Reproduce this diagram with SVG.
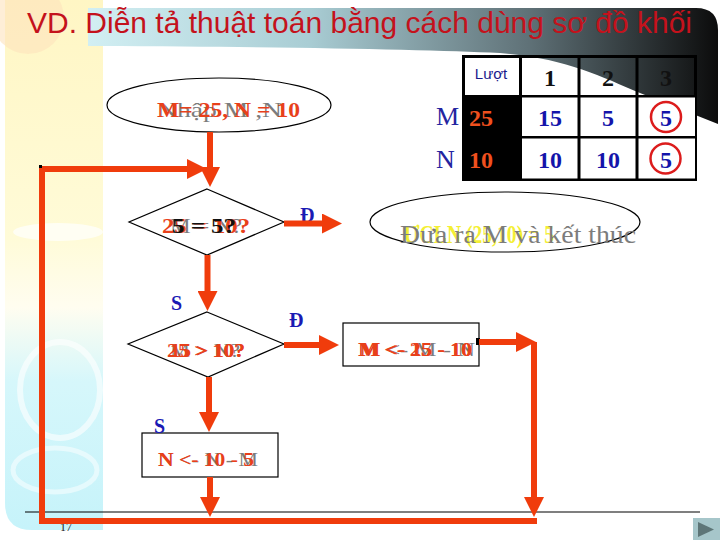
<svg xmlns="http://www.w3.org/2000/svg" width="720" height="540" viewBox="0 0 720 540">
<defs>
  <linearGradient id="band" x1="0" y1="0" x2="1" y2="0">
    <stop offset="0" stop-color="#d2eff3"/>
    <stop offset="0.35" stop-color="#a9cdd4"/>
    <stop offset="0.7" stop-color="#5f7177"/>
    <stop offset="1" stop-color="#0c0c0c"/>
  </linearGradient>
  <linearGradient id="side" x1="0" y1="0" x2="0" y2="1">
    <stop offset="0" stop-color="#fff6c4"/>
    <stop offset="0.45" stop-color="#fffbd8"/>
    <stop offset="0.58" stop-color="#fffdf0"/>
    <stop offset="0.72" stop-color="#d6f7fb"/>
    <stop offset="1" stop-color="#c6f3fa"/>
  </linearGradient>
  <marker id="ah" viewBox="0 0 20 20" refX="1" refY="10" markerWidth="20" markerHeight="20" markerUnits="userSpaceOnUse" orient="auto">
    <path d="M0,0 L20,10 L0,20 Z" fill="#f03c0c"/>
  </marker>
  <style>
    .title{font-family:"Liberation Sans",Arial,sans-serif;font-size:29px;fill:#c4121c}
    .shape{fill:none;stroke:#000;stroke-width:1.2}
    .box{fill:#fff;stroke:#000;stroke-width:1.2}
    .g{font-family:"Liberation Serif","Times New Roman",serif;fill:#7c7c7c}
    .r{font-family:"Liberation Serif","Times New Roman",serif;font-weight:bold;fill:#e8401a}
    .k{font-family:"Liberation Serif","Times New Roman",serif;font-weight:bold;fill:#111}
    .y{font-family:"Liberation Serif","Times New Roman",serif;font-weight:bold;fill:#f4ef34}
    .lab{font-family:"Liberation Serif","Times New Roman",serif;font-weight:bold;font-size:20px;fill:#1a1ab4}
    .hd{font-family:"Liberation Serif","Times New Roman",serif;font-weight:bold;font-size:24px;fill:#111;text-anchor:middle}
    .bv{font-family:"Liberation Serif","Times New Roman",serif;font-weight:bold;font-size:24px;fill:#1414aa;text-anchor:middle}
    .ov{font-family:"Liberation Serif","Times New Roman",serif;font-weight:bold;font-size:24px;fill:#f0501e}
    .mn{font-family:"Liberation Serif","Times New Roman",serif;font-size:26px;fill:#2424a0}
    .conn{fill:none;stroke:#f03c0c;stroke-width:6;stroke-linejoin:miter}
  </style>
</defs>

<!-- background -->
<rect x="0" y="0" width="720" height="540" fill="#fff"/>
<g id="decor">
  <path d="M5,0 H103 V530 H32 Q5,530 5,503 Z" fill="url(#side)"/>
  <circle cx="28" cy="18" r="36" fill="#fde2bc" opacity="0.6"/>
  <ellipse cx="58" cy="232" rx="45" ry="9" fill="#ffffff" opacity="0.7"/>
  <ellipse cx="60" cy="390" rx="40" ry="48" fill="none" stroke="#ffffff" stroke-width="6" opacity="0.6"/>
  <ellipse cx="55" cy="470" rx="42" ry="22" fill="none" stroke="#ffffff" stroke-width="5" opacity="0.5"/>
  <path d="M88,8 H696 Q718,8 718,30 V124 L640,93 C600,76 565,58 500,53 C430,50 300,47 100,46 L88,46 Z" fill="url(#band)"/>
  <line x1="25" y1="512" x2="700" y2="512" stroke="#000" stroke-width="1.2"/>
  <text x="60" y="531" font-family="Liberation Serif, serif" font-size="12" fill="#222">17</text>
  <rect x="693" y="518" width="27" height="22" fill="#a6c6ca"/>
  <path d="M698,522 L698,537 L714,529.5 Z" fill="#5e7678"/>
</g>

<text class="title" x="27" y="33" textLength="665" lengthAdjust="spacingAndGlyphs">VD. Diễn tả thuật toán bằng cách dùng sơ đồ khối</text>

<!-- table -->
<g id="table">
  <rect x="463.5" y="56.5" width="56" height="39" fill="#fff"/>
  <rect x="463.5" y="56.5" width="232" height="40" fill="none" stroke="#000" stroke-width="3"/>
  <line x1="520.5" y1="56" x2="520.5" y2="96" stroke="#000" stroke-width="3"/>
  <line x1="579" y1="56" x2="579" y2="96" stroke="#000" stroke-width="3"/>
  <line x1="637" y1="56" x2="637" y2="96" stroke="#000" stroke-width="3"/>
  <rect x="462" y="95" width="235" height="86" fill="#000"/>
  <rect x="522" y="97.5" width="55.5" height="38.5" fill="#fff"/>
  <rect x="580.5" y="97.5" width="55" height="38.5" fill="#fff"/>
  <rect x="638.5" y="97.5" width="56.5" height="38.5" fill="#fff"/>
  <rect x="522" y="138.5" width="55.5" height="40" fill="#fff"/>
  <rect x="580.5" y="138.5" width="55" height="40" fill="#fff"/>
  <rect x="638.5" y="138.5" width="56.5" height="40" fill="#fff"/>
  <text x="491" y="79" text-anchor="middle" font-family="Liberation Sans, Arial, sans-serif" font-size="15" fill="#1a1a8c">Lượt</text>
  <text class="hd" x="550" y="86">1</text>
  <text class="hd" x="608" y="86">2</text>
  <text class="hd" x="666" y="86">3</text>
  <text class="ov" x="469" y="126">25</text>
  <text class="ov" x="469" y="168">10</text>
  <text class="bv" x="550" y="126">15</text>
  <text class="bv" x="608" y="126">5</text>
  <text class="bv" x="666" y="126">5</text>
  <text class="bv" x="550" y="168">10</text>
  <text class="bv" x="608" y="168">10</text>
  <text class="bv" x="666" y="168">5</text>
  <circle cx="666" cy="117" r="15" fill="none" stroke="#dc1c1c" stroke-width="2.5"/>
  <circle cx="665.5" cy="158.5" r="15" fill="none" stroke="#dc1c1c" stroke-width="2.5"/>
  <text class="mn" x="436" y="125">M</text>
  <text class="mn" x="436" y="168">N</text>
</g>

<!-- nodes -->
<g id="start">
  <ellipse class="shape" cx="219" cy="105" rx="112" ry="27"/>
  <text class="g" x="157" y="117" font-size="22" textLength="125" lengthAdjust="spacingAndGlyphs">Nhập M ,N</text>
  <text class="r" x="157" y="117" font-size="22" textLength="143" lengthAdjust="spacingAndGlyphs">M= 25, N = 10</text>
</g>

<g id="cond1">
  <polygon class="shape" points="207,189 284,222 207,255 129,222"/>
  <text class="g" x="170" y="233" font-size="21" textLength="72" lengthAdjust="spacingAndGlyphs">M = N?</text>
  <text class="r" x="162" y="233" font-size="21" textLength="88" lengthAdjust="spacingAndGlyphs">25 = 10?</text>
  <text class="k" x="172" y="233" font-size="21" textLength="64" lengthAdjust="spacingAndGlyphs">5 = 5?</text>
</g>

<g id="output">
  <ellipse class="shape" cx="505" cy="222" rx="135" ry="30"/>
  <text class="y" x="404" y="243" font-size="25" textLength="150" lengthAdjust="spacingAndGlyphs">ƯCLN (25,10) = 5</text>
  <text class="g" x="400" y="243" font-size="25" textLength="236" lengthAdjust="spacingAndGlyphs">Đưa ra M và kết thúc</text>
</g>

<g id="cond2">
  <polygon class="shape" points="207,312 284,344 208,377 128,344"/>
  <text class="g" x="170" y="357" font-size="19" textLength="70" lengthAdjust="spacingAndGlyphs">M &gt; N?</text>
  <text class="r" x="167" y="357" font-size="19" textLength="78" lengthAdjust="spacingAndGlyphs">25 &gt; 10?</text>
  <text class="r" x="170" y="357" font-size="19" textLength="75" lengthAdjust="spacingAndGlyphs">15 &gt; 10?</text>
</g>

<g id="stepM">
  <rect class="box" x="343" y="323" width="136" height="43"/>
  <text class="g" x="358" y="356" font-size="19" textLength="117" lengthAdjust="spacingAndGlyphs">M &lt;- M - N</text>
  <text class="r" x="358" y="356" font-size="19" textLength="114" lengthAdjust="spacingAndGlyphs">M &lt;- 25 - 10</text>
  <text class="r" x="360" y="356" font-size="19" textLength="112" lengthAdjust="spacingAndGlyphs">M &lt;- 15 - 10</text>
  <rect x="476" y="338" width="4" height="7" fill="#000"/>
</g>

<g id="stepN">
  <rect class="box" x="142" y="433" width="136" height="44"/>
  <text class="g" x="158" y="466" font-size="19" textLength="100" lengthAdjust="spacingAndGlyphs">N &lt;- N - M</text>
  <text class="r" x="158" y="466" font-size="19" textLength="96" lengthAdjust="spacingAndGlyphs">N &lt;- 10 - 5</text>
</g>

<g id="labels">
  <text class="lab" x="300" y="222">Đ</text>
  <text class="lab" x="171" y="310">S</text>
  <text class="lab" x="289" y="327">Đ</text>
  <text class="lab" x="154" y="433">S</text>
</g>

<!-- connectors -->
<g id="connectors">
  <path class="conn" d="M210,132 V168" marker-end="url(#ah)"/>
  <path class="conn" d="M207.5,255 V292" marker-end="url(#ah)"/>
  <path class="conn" d="M284,223.5 H323" marker-end="url(#ah)"/>
  <path class="conn" d="M284,345 H320" marker-end="url(#ah)"/>
  <path class="conn" d="M209,377 V413" marker-end="url(#ah)"/>
  <path class="conn" d="M210,477 V498" marker-end="url(#ah)"/>
  <path class="conn" d="M479,342 H517" marker-end="url(#ah)"/>
  <path class="conn" d="M534,342 V498" marker-end="url(#ah)"/>
  <path class="conn" d="M537,521 H42 V169 H188" marker-end="url(#ah)"/>
  <rect x="39" y="165" width="3" height="3" fill="#000"/>
</g>
</svg>
